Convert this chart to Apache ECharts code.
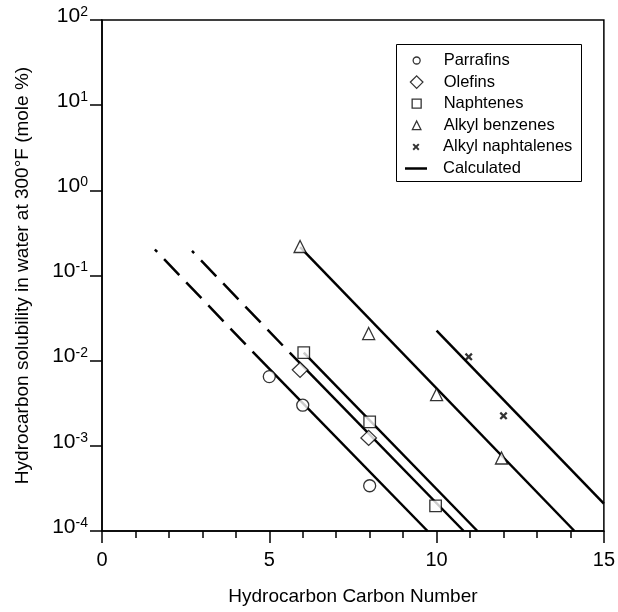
<!DOCTYPE html>
<html><head><meta charset="utf-8">
<script src="https://cdn.jsdelivr.net/npm/echarts@6/dist/echarts.min.js"></script>
<style>html,body{margin:0;padding:0;background:#fff}#c{width:618px;height:612px}</style>
</head><body><div id="c"></div>
<script>
// ---- measured data points ----
const parrafinsX = [5, 6, 8];
const parrafinsY = [0.0065, 0.0030, 0.00034];
const olefinsX = [5.92, 7.97];
const olefinsY = [0.0078, 0.00124];
const naphtenesX = [6.03, 8.0, 9.97];
const naphtenesY = [0.0124, 0.00191, 0.000197];
const benzenesX = [5.92, 7.97, 10.0, 11.94];
const benzenesY = [0.219, 0.0208, 0.0040, 0.00072];
const naphtalenesX = [10.96, 12.0];
const naphtalenesY = [0.0111, 0.00225];

// ---- calculated correlation lines (end points) ----
const calcParrafinsX = [4.5, 9.73];
const calcParrafinsY = [0.01276, 0.0001];
const calcParrafinsExtX = [4.5, 1.58];
const calcParrafinsExtY = [0.01276, 0.202];
const calcOlefinsX = [5.61, 10.81];
const calcOlefinsY = [0.0124, 0.0001];
const calcOlefinsExtX = [5.61, 2.69];
const calcOlefinsExtY = [0.0124, 0.194];
const calcNaphtenesX = [6.03, 11.22];
const calcNaphtenesY = [0.0124, 0.0001];
const calcBenzenesX = [5.92, 14.12];
const calcBenzenesY = [0.215, 0.0001];
const calcNaphtalenesX = [10.0, 15.0];
const calcNaphtalenesY = [0.02254, 0.000209];

// ---- axes / labels ----
const xTicks = [0, 5, 10, 15];
const yExponents = [-4, -3, -2, -1, 0, 1, 2];
const legendNames = ['Parrafins', 'Olefins', 'Naphtenes', 'Alkyl benzenes', 'Alkyl naphtalenes', 'Calculated'];
const xTitle = 'Hydrocarbon Carbon Number';
const yTitle = 'Hydrocarbon solubility in water at 300\u00B0F (mole %)';

const FONT = '"Liberation Sans", Arial, sans-serif';
const zip = (xs, ys) => xs.map((x, i) => [x, ys[i]]);

const X_PATH = 'path://M0,2L2,0L5,3L8,0L10,2L7,5L10,8L8,10L5,7L2,10L0,8L3,5Z';
const DIAMOND_PATH = 'path://M5,0L10,5L5,10L0,5Z';
const RECT_PATH = 'path://M0,0H10V10H0Z';
const TRI_PATH = 'path://M5,0L10,10L0,10Z';
const LINE_PATH = 'path://M0,0H22V2.5H0Z';

const hollow = {color: '#fff', borderColor: '#000', borderWidth: 1.3};
const solidBlack = {color: '#000', borderWidth: 0};

function scatter(name, xs, ys, symbol, size, style) {
  return {type: 'scatter', name, data: zip(xs, ys), symbol, symbolSize: size,
          itemStyle: style, z: 5, silent: true};
}
function calcLine(xs, ys, dashed) {
  return {type: 'line', name: 'Calculated', data: zip(xs, ys), symbol: 'none', showSymbol: false,
          lineStyle: dashed ? {color: '#000', width: 2.5, type: [22, 10], dashOffset: 22}
                            : {color: '#000', width: 2.5, type: 'solid'},
          z: 3, silent: true};
}

// icon, icon width (w) and height (h) in the legend
const legendIcons = [
  {icon: 'circle', w: 7, h: 7, style: hollow},
  {icon: DIAMOND_PATH, w: 12.5, h: 12.5, style: hollow},
  {icon: RECT_PATH, w: 9, h: 9, style: hollow},
  {icon: TRI_PATH, w: 8.5, h: 8.5, style: hollow},
  {icon: X_PATH, w: 7, h: 7, style: solidBlack},
  {icon: LINE_PATH, w: 22, h: 2.5, style: solidBlack}
];
const legendTop0 = 62, legendStep = 21.6, legendIconLeft = 405, legendSlot = 22;
const legends = legendNames.map((n, i) => {
  const li = legendIcons[i];
  return {
    left: legendIconLeft + (legendSlot - li.w) / 2,
    top: legendTop0 + i * legendStep - 10, orient: 'vertical', padding: 0,
    itemWidth: legendSlot, itemHeight: li.h, symbolKeepAspect: true, selectedMode: false,
    itemStyle: li.style,
    data: [{name: n, icon: li.icon, itemStyle: li.style}],
    formatter: '{t|{name}}',
    textStyle: {color: '#000', fontFamily: FONT, fontSize: 16.5,
      rich: {t: {color: '#000', fontFamily: FONT, fontSize: 16.5, lineHeight: 20, padding: [0, 0, 0, 11]}}}
  };
});

const chart = echarts.init(document.getElementById('c'), null, {renderer: 'canvas'});
chart.setOption({
  animation: false,
  backgroundColor: '#fff',
  grid: {left: 102, right: 13, top: 20, bottom: 81, show: true, borderColor: '#000', borderWidth: 1.5},
  legend: legends,
  graphic: [{type: 'rect', shape: {x: 396.5, y: 44.5, width: 185, height: 137},
             style: {fill: null, stroke: '#000', lineWidth: 1}, z: 10, silent: true}],
  xAxis: {
    type: 'value', min: xTicks[0], max: xTicks[xTicks.length - 1], interval: xTicks[1] - xTicks[0],
    axisLine: {lineStyle: {color: '#000', width: 1.5}},
    axisTick: {length: 12, lineStyle: {color: '#000', width: 1.5}},
    minorTick: {show: true, splitNumber: 5, length: 7, lineStyle: {color: '#000', width: 1.5}},
    splitLine: {show: false},
    axisLabel: {color: '#000', fontFamily: FONT, fontSize: 20, margin: 19},
    name: xTitle, nameLocation: 'middle', nameGap: 56,
    nameTextStyle: {color: '#000', fontFamily: FONT, fontSize: 19}
  },
  yAxis: {
    type: 'log', logBase: 10,
    min: Math.pow(10, yExponents[0]), max: Math.pow(10, yExponents[yExponents.length - 1]),
    splitNumber: yExponents.length - 1,
    axisLine: {lineStyle: {color: '#000', width: 1.5}},
    axisTick: {length: 12, lineStyle: {color: '#000', width: 1.5}},
    splitLine: {show: false},
    axisLabel: {
      margin: 14, padding: [0, 0, 8, 0],
      formatter: v => '{b|10}{s|' + Math.round(Math.log10(v)) + '}',
      rich: {
        b: {color: '#000', fontFamily: FONT, fontSize: 21, lineHeight: 22},
        s: {color: '#000', fontFamily: FONT, fontSize: 14, lineHeight: 14, verticalAlign: 'top'}
      }
    },
    name: yTitle, nameLocation: 'middle', nameGap: 70,
    nameTextStyle: {color: '#000', fontFamily: FONT, fontSize: 19}
  },
  series: [
    calcLine(calcParrafinsX, calcParrafinsY, false),
    calcLine(calcParrafinsExtX, calcParrafinsExtY, true),
    calcLine(calcOlefinsX, calcOlefinsY, false),
    calcLine(calcOlefinsExtX, calcOlefinsExtY, true),
    calcLine(calcNaphtenesX, calcNaphtenesY, false),
    calcLine(calcBenzenesX, calcBenzenesY, false),
    calcLine(calcNaphtalenesX, calcNaphtalenesY, false),
    scatter(legendNames[0], parrafinsX, parrafinsY, 'circle', 12, hollow),
    scatter(legendNames[1], olefinsX, olefinsY, 'diamond', [15.5, 15], hollow),
    scatter(legendNames[2], naphtenesX, naphtenesY, 'rect', 11.5, hollow),
    scatter(legendNames[3], benzenesX, benzenesY, 'triangle', 12, hollow),
    scatter(legendNames[4], naphtalenesX, naphtalenesY, X_PATH, 8, solidBlack)
  ]
});
</script></body></html>
